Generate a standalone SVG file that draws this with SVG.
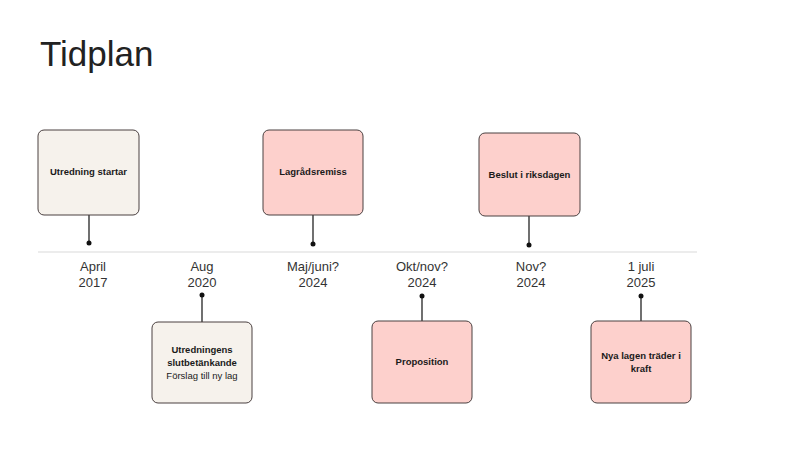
<svg xmlns="http://www.w3.org/2000/svg" width="800" height="450" viewBox="0 0 800 450">
<style>
.box{stroke:#4a4040;stroke-width:1;}
.beige{fill:#f6f2ec;}
.pink{fill:#fdd0cc;}
.bt{font-family:"Liberation Sans",Arial,sans-serif;font-size:9.5px;font-weight:bold;fill:#1a1a1a;text-anchor:middle;}
.rt{font-family:"Liberation Sans",Arial,sans-serif;font-size:9.5px;fill:#1a1a1a;text-anchor:middle;}
.date{font-family:"Liberation Sans",Arial,sans-serif;font-size:13px;fill:#333;text-anchor:middle;}
.conn{stroke:#111;stroke-width:1.2;}
.dot{fill:#111;}
</style>
<rect width="800" height="450" fill="#ffffff"/>
<text x="40" y="66" font-family="Liberation Sans,Arial,sans-serif" font-size="35" fill="#222">Tidplan</text>
<line x1="38" y1="252" x2="697" y2="252" stroke="#d9d9d9" stroke-width="1.2"/>
<g id="dates">
<text class="date" x="93" y="271">April</text><text class="date" x="93" y="287">2017</text>
<text class="date" x="202" y="271">Aug</text><text class="date" x="202" y="287">2020</text>
<text class="date" x="313" y="271">Maj/juni?</text><text class="date" x="313" y="287">2024</text>
<text class="date" x="422" y="271">Okt/nov?</text><text class="date" x="422" y="287">2024</text>
<text class="date" x="531" y="271">Nov?</text><text class="date" x="531" y="287">2024</text>
<text class="date" x="641" y="271">1 juli</text><text class="date" x="641" y="287">2025</text>
</g>
<g id="connectors">
<line class="conn" x1="89" y1="215" x2="89" y2="243"/><circle class="dot" cx="89" cy="243" r="2.5"/>
<line class="conn" x1="313" y1="215" x2="313" y2="244"/><circle class="dot" cx="313" cy="244" r="2.5"/>
<line class="conn" x1="529" y1="216" x2="529" y2="245"/><circle class="dot" cx="529" cy="245" r="2.5"/>
<line class="conn" x1="202" y1="295" x2="202" y2="322"/><circle class="dot" cx="202" cy="295" r="2.5"/>
<line class="conn" x1="422" y1="296" x2="422" y2="321"/><circle class="dot" cx="422" cy="296" r="2.5"/>
<line class="conn" x1="641" y1="296" x2="641" y2="321"/><circle class="dot" cx="641" cy="296" r="2.5"/>
</g>
<g id="n1"><rect class="box beige" x="38" y="130" width="101" height="85" rx="6"/><text class="bt" x="88.5" y="175">Utredning startar</text></g>
<g id="n2"><rect class="box pink" x="263" y="130" width="100" height="85" rx="6"/><text class="bt" x="313" y="175">Lagrådsremiss</text></g>
<g id="n3"><rect class="box pink" x="479" y="133" width="101" height="83" rx="6"/><text class="bt" x="529.5" y="178">Beslut i riksdagen</text></g>
<g id="n4"><rect class="box beige" x="152" y="322" width="100" height="81" rx="6"/><text class="bt" x="202" y="353">Utredningens</text><text class="bt" x="202" y="366">slutbetänkande</text><text class="rt" x="202" y="379">Förslag till ny lag</text></g>
<g id="n5"><rect class="box pink" x="372" y="321" width="100" height="82" rx="6"/><text class="bt" x="422" y="365">Proposition</text></g>
<g id="n6"><rect class="box pink" x="591" y="321" width="100" height="82" rx="6"/><text class="bt" x="641" y="359">Nya lagen träder i</text><text class="bt" x="641" y="372">kraft</text></g>
</svg>
